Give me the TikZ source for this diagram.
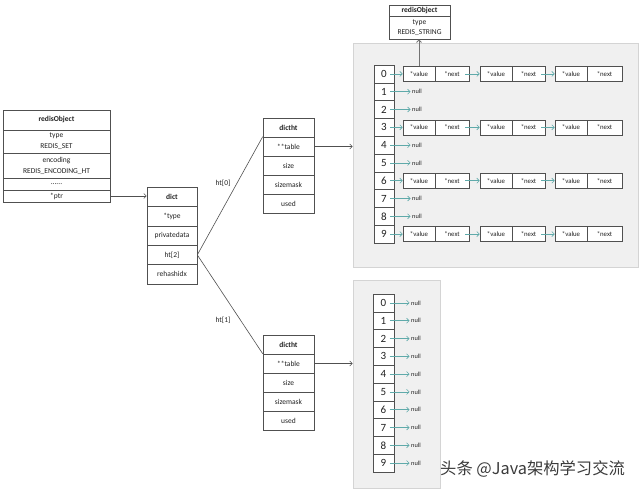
\documentclass[tikz,border=0pt]{standalone}
\usepackage{fontspec}
\setmainfont{Carlito}
\newfontfamily\cjk{Noto Sans CJK SC}
\usetikzlibrary{arrows.meta}
\definecolor{boxc}{HTML}{505050}
\definecolor{txtc}{HTML}{222222}
\definecolor{panelfill}{HTML}{F0F0F0}
\definecolor{panelline}{HTML}{D4D4D4}
\definecolor{tealc}{HTML}{5FAAAA}
\definecolor{wmc}{HTML}{3A3A3A}
\begin{document}
\begin{tikzpicture}[x=1pt,y=-1pt,
  every node/.style={text=txtc},
  cell/.style={draw=boxc, line width=0.6pt, fill=white, inner sep=0pt, align=center, font=\fontsize{7.5}{11}\selectfont},
  cellwh/.style 2 args={cell, minimum width=#1, minimum height=#2},
  chainbox/.style 2 args={cell, minimum width=#1, minimum height=#2, font=\fontsize{6.8}{8}\selectfont},
  numcell/.style={cell, minimum width=20pt, minimum height=17.8pt, font=\fontsize{11}{12}\selectfont},
  panel/.style={draw=panelline, fill=panelfill, line width=0.8pt, inner sep=0pt},
  nulltxt/.style={anchor=west, inner sep=1.5pt, font=\fontsize{6.3}{7}\selectfont},
  lbl/.style={inner sep=1pt, font=\fontsize{7.5}{9}\selectfont},
  blackarr/.style={draw=boxc, line width=0.6pt, -{Straight Barb[length=2.5pt,width=5pt]}},
  plainline/.style={draw=boxc, line width=0.6pt},
  tealarr/.style={draw=tealc, line width=0.6pt, -{Straight Barb[length=2.5pt,width=5pt]}},
  grayarr/.style={draw=boxc!80, line width=0.9pt, -{Straight Barb[length=2.5pt,width=5pt]}}
]
\useasboundingbox (0,0) rectangle (640,490);

% panels
\node[panel, minimum width=285pt, minimum height=224pt] (panel1) at (495.5,155) {};
\node[panel, minimum width=87pt, minimum height=208pt] (panel2) at (396.5,384) {};

% left redisObject
\node[cellwh={107pt}{20pt}] (ro-title) at (56.5,120) {\textbf{redisObject}};
\node[cellwh={107pt}{23pt}] (ro-type) at (56.5,141.5) {type\\REDIS\_SET};
\node[cellwh={107pt}{25pt}] (ro-enc) at (56.5,165.5) {encoding\\REDIS\_ENCODING\_HT};
\node[cellwh={107pt}{12pt}] (ro-dots) at (56.5,184) {......};
\node[cellwh={107pt}{12pt}] (ro-ptr) at (56.5,196) {*ptr};

% dict
\node[cellwh={50pt}{19.4pt}] (d-title) at (172,196.7) {\textbf{dict}};
\node[cellwh={50pt}{19.4pt}] (d-type) at (172,216.1) {*type};
\node[cellwh={50pt}{19.4pt}] (d-priv) at (172,235.5) {privatedata};
\node[cellwh={50pt}{19.4pt}] (d-ht) at (172,254.9) {ht[2]};
\node[cellwh={50pt}{19.4pt}] (d-rehash) at (172,274.3) {rehashidx};

\draw[blackarr] (ro-ptr.east) -- (ro-ptr.east -| d-title.west);

% dictht 0
\node[cellwh={51pt}{19pt}] (h0-title) at (288.5,127.5) {\textbf{dictht}};
\node[cellwh={51pt}{19pt}] (h0-table) at (288.5,146.5) {**table};
\node[cellwh={51pt}{19pt}] (h0-size) at (288.5,165.5) {size};
\node[cellwh={51pt}{19pt}] (h0-mask) at (288.5,184.5) {sizemask};
\node[cellwh={51pt}{19pt}] (h0-used) at (288.5,203.5) {used};

% dictht 1
\node[cellwh={51pt}{19pt}] (h1-title) at (288.5,344.5) {\textbf{dictht}};
\node[cellwh={51pt}{19pt}] (h1-table) at (288.5,363.5) {**table};
\node[cellwh={51pt}{19pt}] (h1-size) at (288.5,382.5) {size};
\node[cellwh={51pt}{19pt}] (h1-mask) at (288.5,401.5) {sizemask};
\node[cellwh={51pt}{19pt}] (h1-used) at (288.5,420.5) {used};

\draw[plainline] (d-ht.east) -- (h0-table.north west);
\draw[plainline] (d-ht.east) -- (h1-table.north west);
\node[lbl] (l-ht0) at (223,183) {ht[0]};
\node[lbl] (l-ht1) at (223,320) {ht[1]};

\draw[blackarr] (h0-table.east) -- (h0-table.east -| panel1.west);
\draw[blackarr] (h1-table.east) -- (h1-table.east -| panel2.west);

% top redisObject
\node[cellwh={61pt}{11pt}] (t-title) at (419.5,10.5) {\textbf{redisObject}};
\node[cellwh={61pt}{23pt}, font=\fontsize{7.5}{10}\selectfont] (t-body) at (419.5,27.5) {type\\REDIS\_STRING};

% array 1
\foreach \i in {0,...,9} {
  \pgfmathsetmacro{\yy}{73.9+17.8*\i}
  \node[numcell] (a\i) at (384,\yy) {\i};
}
% chains
\foreach \r in {0,3,6,9} {
  \pgfmathsetmacro{\yy}{73.9+17.8*\r}
  \node[chainbox={32pt}{15pt}] (v\r a) at (419,\yy) {*value};
  \node[chainbox={34pt}{15pt}] (n\r a) at (452,\yy) {*next};
  \node[chainbox={32pt}{15pt}] (v\r b) at (496,\yy) {*value};
  \node[chainbox={33pt}{15pt}] (n\r b) at (528.5,\yy) {*next};
  \node[chainbox={32pt}{15pt}] (v\r c) at (571,\yy) {*value};
  \node[chainbox={35pt}{15pt}] (n\r c) at (604.5,\yy) {*next};
  \draw[tealarr] ([xshift=6pt]a\r.center) -- (v\r a.west);
  \draw[tealarr] ([xshift=-4pt]n\r a.east) -- (v\r b.west);
  \draw[tealarr] ([xshift=-4pt]n\r b.east) -- (v\r c.west);
}
\foreach \i in {1,2,4,5,7,8} {
  \pgfmathsetmacro{\yy}{73.9+17.8*\i}
  \node[nulltxt] (nl\i) at (410.5,\yy) {null};
  \draw[tealarr] ([xshift=6pt]a\i.center) -- (nl\i.west);
}
\draw[grayarr] (v0a.north) -- (v0a.north |- t-body.south);

% array 2
\foreach \i in {0,...,9} {
  \pgfmathsetmacro{\yy}{302.9+17.8*\i}
  \node[numcell, minimum width=21pt] (b\i) at (383.5,\yy) {\i};
  \node[nulltxt] (bn\i) at (409.5,\yy) {null};
  \draw[tealarr] ([xshift=6pt]b\i.center) -- (bn\i.west);
}

% watermark
\node[anchor=west, inner sep=0pt, text=wmc, font=\cjk\fontsize{16.3}{17}\selectfont] (wm) at (440,469) {头条 @Java架构学习交流};
\end{tikzpicture}
\end{document}
